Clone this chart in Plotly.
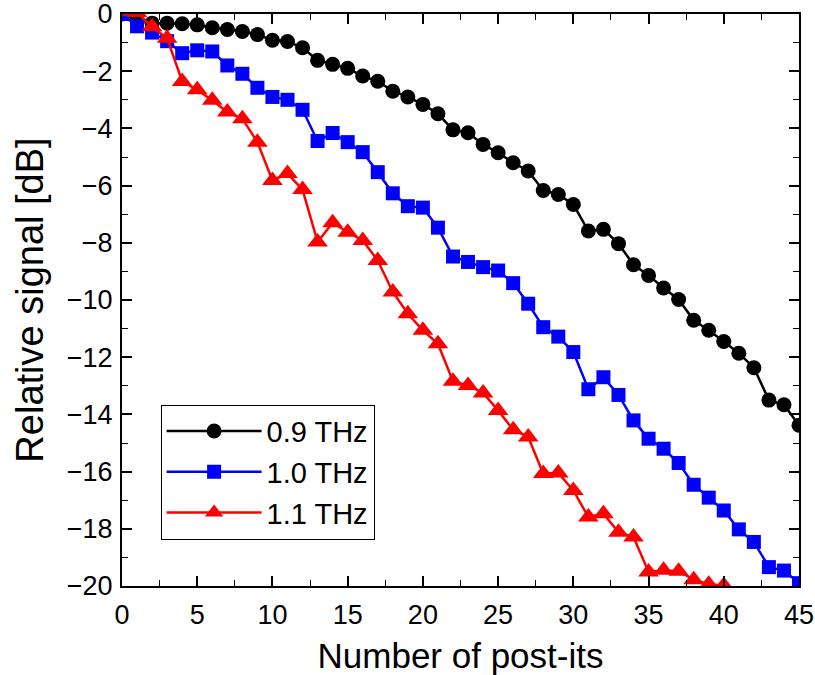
import plotly.graph_objects as go

x_black = list(range(0, 46))
y_black = [0, -0.2, -0.32, -0.32, -0.34, -0.38, -0.48, -0.54, -0.61, -0.72,
           -0.92, -0.96, -1.18, -1.62, -1.76, -1.9, -2.17, -2.35, -2.7, -2.9,
           -3.16, -3.49, -4.05, -4.15, -4.56, -4.85, -5.2, -5.49, -6.17, -6.31,
           -6.66, -7.59, -7.53, -8.03, -8.77, -9.14, -9.58, -9.98, -10.71, -11.06,
           -11.45, -11.86, -12.37, -13.5, -13.66, -14.38]

x_blue = list(range(0, 46))
y_blue = [0, -0.43, -0.65, -0.95, -1.37, -1.27, -1.31, -1.8, -2.09, -2.58,
          -2.9, -3.0, -3.35, -4.44, -4.16, -4.48, -4.83, -5.53, -6.27, -6.72,
          -6.77, -7.47, -8.48, -8.67, -8.85, -8.97, -9.41, -10.13, -10.95, -11.28,
          -11.82, -13.12, -12.7, -13.32, -14.21, -14.85, -15.2, -15.7, -16.46, -16.91,
          -17.36, -18.02, -18.46, -19.34, -19.46, -19.9]

x_red = list(range(0, 41))
y_red = [0.1, 0.05, -0.45, -0.85, -2.36, -2.65, -3.02, -3.43, -3.66, -4.48,
         -5.82, -5.58, -6.14, -7.97, -7.3, -7.63, -7.92, -8.62, -9.72, -10.48,
         -11.06, -11.53, -12.84, -12.99, -13.25, -13.86, -14.54, -14.79, -16.07, -16.05,
         -16.66, -17.59, -17.47, -18.12, -18.29, -19.51, -19.45, -19.48, -19.78, -19.94,
         -19.98]

names = ["0.9 THz", "1.0 THz", "1.1 THz"]

x_ticks = [0, 5, 10, 15, 20, 25, 30, 35, 40, 45]
y_ticks = [0, -2, -4, -6, -8, -10, -12, -14, -16, -18, -20]
y_ticktext = ["0", "\u22122", "\u22124", "\u22126", "\u22128", "\u221210",
              "\u221212", "\u221214", "\u221216", "\u221218", "\u221220"]

fig = go.Figure()
fig.add_trace(go.Scatter(x=x_black, y=y_black, mode="lines+markers", name=names[0],
                         line=dict(color="black", width=2.5),
                         marker=dict(symbol="circle", size=15, color="black")))
fig.add_trace(go.Scatter(x=x_blue, y=y_blue, mode="lines+markers", name=names[1],
                         line=dict(color="#0000ff", width=2.5),
                         marker=dict(symbol="square", size=14, color="#0000ff")))
fig.add_trace(go.Scatter(x=x_red, y=y_red, mode="lines+markers", name=names[2],
                         line=dict(color="#ff0000", width=2.5),
                         marker=dict(symbol="triangle-up", size=18, color="#ff0000")))

font_family = "Liberation Sans, Arial, sans-serif"
axis_common = dict(showline=True, linecolor="black", linewidth=2, mirror="allticks",
                   ticks="inside", ticklen=10, tickwidth=1.5, tickcolor="black",
                   showgrid=False, zeroline=False, ticklabeloverflow="allow",
                   automargin=False,
                   tickfont=dict(family=font_family, size=27, color="black"))

fig.update_xaxes(range=[0, 45], tickmode="array", tickvals=x_ticks,
                 minor=dict(dtick=2.5, tick0=0, ticks="inside", ticklen=6, tickcolor="black", tickwidth=1.2),
                 title=dict(text="Number of post-its", font=dict(family=font_family, size=35, color="black"),
                            standoff=15),
                 ticklabelstandoff=4,
                 **axis_common)
fig.update_yaxes(range=[-20, 0], tickmode="array", tickvals=y_ticks, ticktext=y_ticktext,
                 minor=dict(dtick=1, tick0=0, ticks="inside", ticklen=6, tickcolor="black", tickwidth=1.2),
                 title=dict(text="Relative signal [dB]", font=dict(family=font_family, size=38, color="black"),
                            standoff=11),
                 ticklabelstandoff=2,
                 **axis_common)

fig.update_layout(
    width=815, height=675,
    margin=dict(l=122, r=16, t=14, b=89),
    plot_bgcolor="white", paper_bgcolor="white",
    showlegend=True,
    legend=dict(x=0.057, y=0.317, xanchor="left", yanchor="top",
                bgcolor="white", bordercolor="black", borderwidth=1,
                font=dict(family=font_family, size=29, color="black"),
                itemwidth=95, tracegroupgap=0),
)

fig.write_html("out.html")
